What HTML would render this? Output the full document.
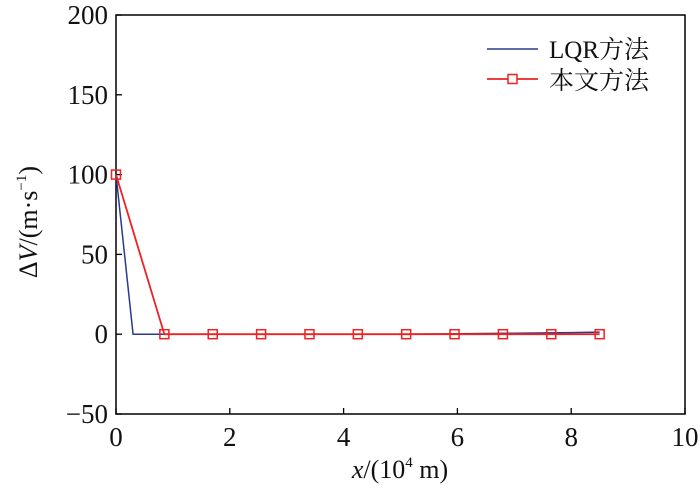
<!DOCTYPE html>
<html><head><meta charset="utf-8"><style>
body{margin:0;background:#fff}
svg text{font-family:"Liberation Serif","Noto Serif CJK SC",serif;fill:#111}
</style></head><body>
<svg id="c" width="700" height="489" xmlns="http://www.w3.org/2000/svg"></svg>
<script>
const xTicks=[0,2,4,6,8,10];
const yTicks=[-50,0,50,100,150,200];
const lqrX=[0,0.3,1,2,3,4,5,6,7,8,8.5];
const lqrY=[100,0,0,0,0,0,0,0.3,0.6,1.0,1.3];
const ourX=[0,0.85,1.7,2.55,3.4,4.25,5.1,5.95,6.8,7.65,8.5];
const ourY=[100,0,0,0,0,0,0,0,0,0,0];
const L=116,R=685,T=15,B=414;
const sx=v=>L+(v-0)/(10-0)*(R-L);
const sy=v=>B-(v+50)/250*(B-T);
const svg=document.getElementById('c');
const NS='http://www.w3.org/2000/svg';
function mk(t,a,p){const e=document.createElementNS(NS,t);for(const k in a)e.setAttribute(k,a[k]);(p||svg).appendChild(e);return e;}
const frame=mk('rect',{x:L,y:T,width:R-L,height:B-T,fill:'none',stroke:'#000','stroke-width':1.5});


xTicks.forEach(v=>{
 const l=mk('line',{x1:sx(v),x2:sx(v),y1:B,y2:B-6,stroke:'#000','stroke-width':1.3});
 
 
 const t=mk('text',{x:sx(v),y:B+32,'text-anchor':'middle','font-size':27});t.textContent=v;
 
 
});
yTicks.forEach(v=>{
 const l=mk('line',{x1:L,x2:L+6,y1:sy(v),y2:sy(v),stroke:'#000','stroke-width':1.3});
 
 
 const t=mk('text',{x:L-8,y:sy(v)+9,'text-anchor':'end','font-size':27});t.textContent=v<0?'\u2212'+(-v):v;
 
 
});
const pts=(X,Y)=>X.map((x,i)=>sx(x)+','+sy(Y[i])).join(' ');
const bl=mk('polyline',{points:pts(lqrX,lqrY),fill:'none',stroke:'#2b3a8c','stroke-width':1.5});


const rl=mk('polyline',{points:pts(ourX,ourY),fill:'none',stroke:'#ee2222','stroke-width':1.8});


ourX.forEach((x,i)=>{
 const m=mk('rect',{x:sx(x)-4.5,y:sy(ourY[i])-4.5,width:9,height:9,fill:'none',stroke:'#ee2222','stroke-width':1.5});
 
 
});
</script>
<svg style="position:absolute;left:0;top:0" width="700" height="489" xmlns="http://www.w3.org/2000/svg">
<g>
<line x1="487" y1="49" x2="538" y2="49" stroke="#2b3a8c" stroke-width="1.5"/>
<text x="549" y="58" font-size="25">LQR方法</text>
<line x1="487" y1="79" x2="538" y2="79" stroke="#ee2222" stroke-width="1.8"/>
<rect x="508" y="74.5" width="9" height="9" fill="#fff" stroke="#ee2222" stroke-width="1.5"/>
<text x="549" y="89" font-size="25">本文方法</text>
</g>
<text x="400" y="478" text-anchor="middle" font-size="26"><tspan font-style="italic">x</tspan>/(10<tspan font-size="15" dy="-11">4</tspan><tspan dy="11"> m)</tspan></text>
<text transform="translate(37,222) rotate(-90)" text-anchor="middle" font-size="26">Δ<tspan font-style="italic">V</tspan>/(m·s<tspan font-size="15" dy="-11">−1</tspan><tspan dy="11">)</tspan></text>
</svg>
</body></html>
